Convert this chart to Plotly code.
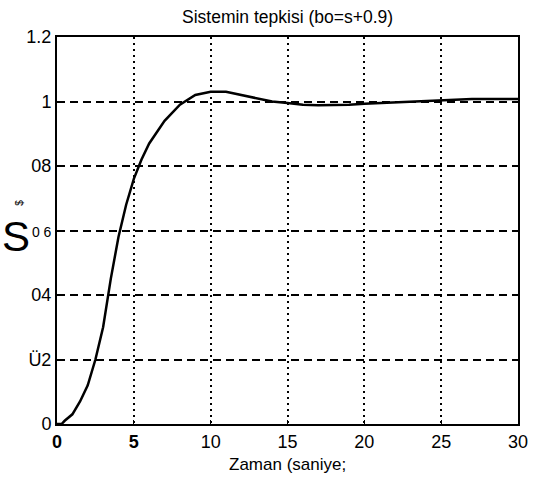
import plotly.graph_objects as go

# Step response data
t = [0, 0.3, 0.5, 1, 1.5, 2, 2.5, 3, 3.5, 4, 4.5, 5, 5.5, 6, 7, 8, 9, 10, 11, 12, 13, 14,
     15, 16, 17, 18, 19, 20, 21, 22, 23, 24, 25, 26, 27, 28, 29, 30]
y = [0, 0, 0.01, 0.03, 0.07, 0.12, 0.2, 0.3, 0.45, 0.58, 0.68, 0.76, 0.82, 0.87, 0.94, 0.99,
     1.02, 1.03, 1.03, 1.02, 1.01, 1.0, 0.995, 0.99, 0.988, 0.988, 0.99, 0.993, 0.995, 0.998,
     1.0, 1.002, 1.004, 1.007, 1.008, 1.008, 1.008, 1.008]

x_ticks = [0, 5, 10, 15, 20, 25, 30]
x_ticktext = ["<b>0</b>", "<b>5</b>", "10", "15", "20", "25", "30"]
y_ticks = [0, 0.2, 0.4, 0.6, 0.8, 1.0, 1.2]
y_ticktext = ["0", "Ü2", "04", "<span style='font-size:14px'>0 6</span>", "08", "1", "1.2"]

title_text = "Sistemin tepkisi (bo=s+0.9)"
xlabel_text = "Zaman (saniye;"

FONT = "Liberation Sans, Arial, sans-serif"
NARROW = "Liberation Sans Narrow, Arial Narrow, sans-serif"

fig = go.Figure()
fig.add_trace(go.Scatter(x=t, y=y, mode="lines",
                         line=dict(color="black", width=2.5), showlegend=False,
                         hoverinfo="skip"))

fig.update_layout(
    width=538, height=479,
    margin=dict(l=57, r=10, t=37, b=55),
    paper_bgcolor="white", plot_bgcolor="white",
    font=dict(family=FONT, color="black", size=18),
    showlegend=False,
)
fig.update_xaxes(
    range=[0, 30], tickvals=x_ticks, ticktext=x_ticktext,
    showgrid=True, gridcolor="black", gridwidth=2, griddash="2px,4px",
    showline=True, linecolor="black", linewidth=2, mirror=True,
    ticks="inside", ticklen=4, tickcolor="black",
    tickfont=dict(size=18, family=FONT), zeroline=False,
)
fig.update_yaxes(
    range=[0, 1.2], tickvals=y_ticks, ticktext=y_ticktext,
    showgrid=True, gridcolor="black", gridwidth=2, griddash="8px,5px",
    showline=True, linecolor="black", linewidth=2, mirror=True,
    ticks="inside", ticklen=4, tickcolor="black",
    tickfont=dict(size=18, family=FONT), zeroline=False,
)

fig.add_annotation(text=title_text, xref="paper", yref="paper", x=0.5,
                   y=(479 - 17 - 55) / 387, xanchor="center", yanchor="middle",
                   showarrow=False, font=dict(size=17.5, family=FONT))
fig.add_annotation(text=xlabel_text, xref="paper", yref="paper", x=0.5,
                   y=-(464 - 424) / 387, xanchor="center", yanchor="middle",
                   showarrow=False, font=dict(size=17, family=FONT))
fig.add_annotation(text="S", xref="paper", yref="paper", x=-(57 - 15) / 471,
                   y=(424 - 236) / 387, xanchor="center", yanchor="middle",
                   showarrow=False, font=dict(size=42, family=NARROW))
fig.add_annotation(text="$", xref="paper", yref="paper", x=-(57 - 19) / 471,
                   y=(424 - 203) / 387, xanchor="center", yanchor="middle",
                   textangle=-90, showarrow=False, font=dict(size=10, family=FONT))

fig.write_html("out.html")
